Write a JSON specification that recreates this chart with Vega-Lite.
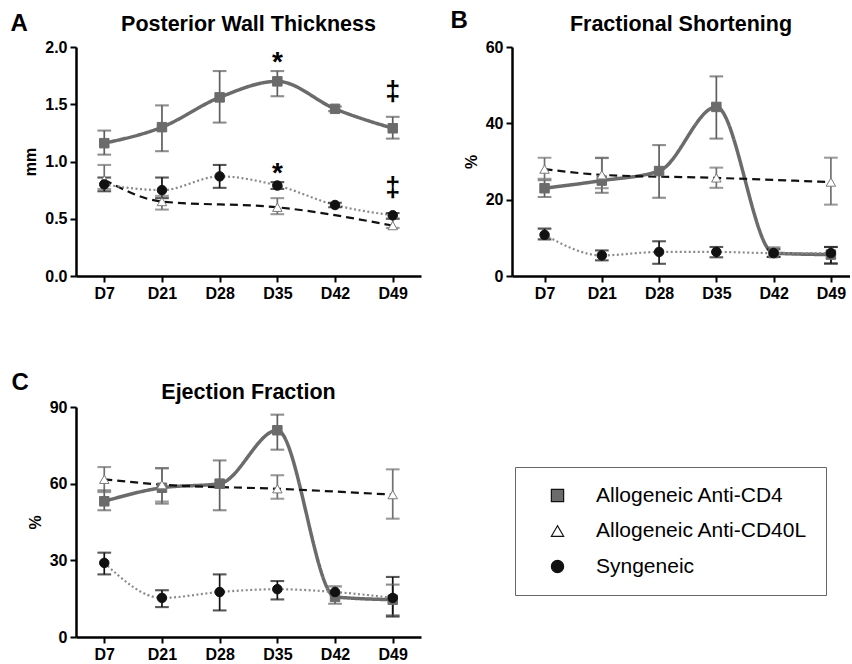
{
  "$schema": "https://vega.github.io/schema/vega-lite/v6.json",
  "padding": {"left": 10, "top": 8, "right": 0, "bottom": 2},
  "background": "white",
  "datasets": {
    "pwt": [
      {"day": "D7", "series": "Allogeneic Anti-CD4", "v": 1.16, "lo": 1.06, "hi": 1.27},
      {"day": "D21", "series": "Allogeneic Anti-CD4", "v": 1.30, "lo": 1.09, "hi": 1.49},
      {"day": "D28", "series": "Allogeneic Anti-CD4", "v": 1.56, "lo": 1.34, "hi": 1.79},
      {"day": "D35", "series": "Allogeneic Anti-CD4", "v": 1.70, "lo": 1.57, "hi": 1.79, "sig": "*"},
      {"day": "D42", "series": "Allogeneic Anti-CD4", "v": 1.46, "lo": 1.44, "hi": 1.48},
      {"day": "D49", "series": "Allogeneic Anti-CD4", "v": 1.29, "lo": 1.20, "hi": 1.39, "sig": "‡"},
      {"day": "D7", "series": "Allogeneic Anti-CD40L", "v": 0.84, "lo": 0.76, "hi": 0.97},
      {"day": "D21", "series": "Allogeneic Anti-CD40L", "v": 0.65, "lo": 0.58, "hi": 0.70},
      {"day": "D35", "series": "Allogeneic Anti-CD40L", "v": 0.60, "lo": 0.54, "hi": 0.68},
      {"day": "D49", "series": "Allogeneic Anti-CD40L", "v": 0.44, "lo": 0.42, "hi": 0.50},
      {"day": "D7", "series": "Syngeneic", "v": 0.80, "lo": 0.74, "hi": 0.86},
      {"day": "D21", "series": "Syngeneic", "v": 0.75, "lo": 0.68, "hi": 0.86},
      {"day": "D28", "series": "Syngeneic", "v": 0.87, "lo": 0.77, "hi": 0.97},
      {"day": "D35", "series": "Syngeneic", "v": 0.79, "lo": 0.76, "hi": 0.82, "sig": "*"},
      {"day": "D42", "series": "Syngeneic", "v": 0.62, "lo": 0.60, "hi": 0.64},
      {"day": "D49", "series": "Syngeneic", "v": 0.53, "lo": 0.50, "hi": 0.55, "sig": "‡"}
    ],
    "fs": [
      {"day": "D7", "series": "Allogeneic Anti-CD4", "v": 23.0, "lo": 20.7, "hi": 25.1},
      {"day": "D21", "series": "Allogeneic Anti-CD4", "v": 25.0, "lo": 21.8, "hi": 30.9},
      {"day": "D28", "series": "Allogeneic Anti-CD4", "v": 27.5, "lo": 20.5, "hi": 34.3},
      {"day": "D35", "series": "Allogeneic Anti-CD4", "v": 44.3, "lo": 36.0, "hi": 52.3},
      {"day": "D42", "series": "Allogeneic Anti-CD4", "v": 6.0, "lo": 5.0, "hi": 7.5},
      {"day": "D49", "series": "Allogeneic Anti-CD4", "v": 5.6, "lo": 3.2, "hi": 7.6},
      {"day": "D7", "series": "Allogeneic Anti-CD40L", "v": 28.0, "lo": 25.5, "hi": 31.0},
      {"day": "D21", "series": "Allogeneic Anti-CD40L", "v": 26.5, "lo": 23.0, "hi": 31.0},
      {"day": "D35", "series": "Allogeneic Anti-CD40L", "v": 25.7, "lo": 23.1, "hi": 28.4},
      {"day": "D49", "series": "Allogeneic Anti-CD40L", "v": 24.6, "lo": 18.7, "hi": 31.0},
      {"day": "D7", "series": "Syngeneic", "v": 10.8, "lo": 9.6, "hi": 12.4},
      {"day": "D21", "series": "Syngeneic", "v": 5.4, "lo": 4.1, "hi": 6.7},
      {"day": "D28", "series": "Syngeneic", "v": 6.3, "lo": 3.2, "hi": 9.1},
      {"day": "D35", "series": "Syngeneic", "v": 6.3, "lo": 4.9, "hi": 7.6},
      {"day": "D42", "series": "Syngeneic", "v": 6.0, "lo": 5.0, "hi": 7.0},
      {"day": "D49", "series": "Syngeneic", "v": 6.0, "lo": 3.3, "hi": 7.6}
    ],
    "ef": [
      {"day": "D7", "series": "Allogeneic Anti-CD4", "v": 53.1, "lo": 49.6, "hi": 57.4},
      {"day": "D21", "series": "Allogeneic Anti-CD4", "v": 58.4, "lo": 52.2, "hi": 66.1},
      {"day": "D28", "series": "Allogeneic Anti-CD4", "v": 60.0, "lo": 49.6, "hi": 69.1},
      {"day": "D35", "series": "Allogeneic Anti-CD4", "v": 80.9, "lo": 73.3, "hi": 87.0},
      {"day": "D42", "series": "Allogeneic Anti-CD4", "v": 15.7, "lo": 13.0, "hi": 19.8},
      {"day": "D49", "series": "Allogeneic Anti-CD4", "v": 14.6, "lo": 8.5, "hi": 20.5},
      {"day": "D7", "series": "Allogeneic Anti-CD40L", "v": 61.7, "lo": 56.7, "hi": 66.5},
      {"day": "D21", "series": "Allogeneic Anti-CD40L", "v": 59.6, "lo": 53.0, "hi": 66.0},
      {"day": "D35", "series": "Allogeneic Anti-CD40L", "v": 58.0, "lo": 54.1, "hi": 63.3},
      {"day": "D49", "series": "Allogeneic Anti-CD40L", "v": 55.7, "lo": 46.3, "hi": 65.6},
      {"day": "D7", "series": "Syngeneic", "v": 29.0, "lo": 24.5, "hi": 33.0},
      {"day": "D21", "series": "Syngeneic", "v": 15.3, "lo": 11.7, "hi": 18.3},
      {"day": "D28", "series": "Syngeneic", "v": 17.6, "lo": 10.4, "hi": 24.5},
      {"day": "D35", "series": "Syngeneic", "v": 18.7, "lo": 14.7, "hi": 21.9},
      {"day": "D42", "series": "Syngeneic", "v": 17.6},
      {"day": "D49", "series": "Syngeneic", "v": 15.3, "lo": 8.0, "hi": 23.5}
    ]
  },
  "concat": [
    {
      "width": 345, "height": 229,
      "title": {"text": "Posterior Wall Thickness", "dy": 28},
      "data": {"name": "pwt"},
      "encoding": {"x": {"field": "day", "type": "ordinal", "scale": {"type": "point", "domain": ["D7","D21","D28","D35","D42","D49"], "padding": 0.49}, "axis": {"title": "A", "titleX": -66, "titleY": -246, "titleAlign": "left", "titleBaseline": "alphabetic", "titleAngle": 0, "titleFontSize": 24, "labelAngle": 0}}},
      "layer": [
        {"mark": {"type": "line", "interpolate": "monotone"},
         "encoding": {
           "y": {"field": "v", "type": "quantitative", "scale": {"domain": [0, 2], "nice": false}, "axis": {"title": "mm", "values": [0, 0.5, 1, 1.5, 2], "format": ".1f", "titlePadding": 6}},
           "detail": {"field": "series", "type": "nominal"},
           "stroke": {"condition": [{"test": "datum.series === 'Allogeneic Anti-CD4'", "value": "#6b6b6b"}, {"test": "datum.series === 'Allogeneic Anti-CD40L'", "value": "#111111"}], "value": "#8a8a8a"},
           "strokeDash": {"condition": [{"test": "datum.series === 'Allogeneic Anti-CD4'", "value": [1, 0]}, {"test": "datum.series === 'Allogeneic Anti-CD40L'", "value": [8, 5]}], "value": [2, 2.5]},
           "strokeWidth": {"condition": {"test": "datum.series === 'Allogeneic Anti-CD4'", "value": 3.5}, "value": 2.2}}},
        {"mark": {"type": "rule", "strokeWidth": 1.7},
         "encoding": {"y": {"field": "lo", "type": "quantitative"}, "y2": {"field": "hi"},
           "stroke": {"condition": [{"test": "datum.series === 'Allogeneic Anti-CD4'", "value": "#5e5e5e"}, {"test": "datum.series === 'Allogeneic Anti-CD40L'", "value": "#707070"}], "value": "#111111"}}},
        {"mark": {"type": "tick", "filled": false, "size": 12, "thickness": 0.4, "strokeWidth": 1.7},
         "encoding": {"y": {"field": "lo", "type": "quantitative"},
           "stroke": {"condition": [{"test": "datum.series === 'Allogeneic Anti-CD4'", "value": "#5e5e5e"}, {"test": "datum.series === 'Allogeneic Anti-CD40L'", "value": "#707070"}], "value": "#111111"}}},
        {"mark": {"type": "tick", "filled": false, "size": 12, "thickness": 0.4, "strokeWidth": 1.7},
         "encoding": {"y": {"field": "hi", "type": "quantitative"},
           "stroke": {"condition": [{"test": "datum.series === 'Allogeneic Anti-CD4'", "value": "#5e5e5e"}, {"test": "datum.series === 'Allogeneic Anti-CD40L'", "value": "#707070"}], "value": "#111111"}}},
        {"mark": {"type": "point", "filled": true, "size": 90, "strokeWidth": 1, "opacity": 1},
         "encoding": {"y": {"field": "v", "type": "quantitative"},
           "shape": {"condition": [{"test": "datum.series === 'Allogeneic Anti-CD4'", "value": "square"}, {"test": "datum.series === 'Allogeneic Anti-CD40L'", "value": "triangle-up"}], "value": "circle"},
           "fill": {"condition": [{"test": "datum.series === 'Allogeneic Anti-CD4'", "value": "#6b6b6b"}, {"test": "datum.series === 'Allogeneic Anti-CD40L'", "value": "#ffffff"}], "value": "#111111"},
           "stroke": {"condition": [{"test": "datum.series === 'Allogeneic Anti-CD4'", "value": "#6b6b6b"}, {"test": "datum.series === 'Allogeneic Anti-CD40L'", "value": "#7a7a7a"}], "value": "#111111"}}},
        {"transform": [{"filter": "datum.sig === '*'"}],
         "mark": {"type": "text", "fontSize": 28, "fontWeight": "bold", "baseline": "bottom", "dy": 6, "color": "black"},
         "encoding": {"y": {"field": "hi", "type": "quantitative"}, "text": {"field": "sig", "type": "nominal"}}},
        {"transform": [{"filter": "datum.sig === '‡'"}],
         "mark": {"type": "text", "fontSize": 27, "fontWeight": "bold", "baseline": "bottom", "dy": -11, "color": "black"},
         "encoding": {"y": {"field": "hi", "type": "quantitative"}, "text": {"field": "sig", "type": "nominal"}}}
      ]
    },
    {
      "width": 338, "height": 229,
      "title": {"text": "Fractional Shortening", "dy": 31},
      "data": {"name": "fs"},
      "encoding": {"x": {"field": "day", "type": "ordinal", "scale": {"type": "point", "domain": ["D7","D21","D28","D35","D42","D49"], "padding": 0.451, "align": 0.63}, "axis": {"title": "B", "titleX": -62, "titleY": -249, "titleAlign": "left", "titleBaseline": "alphabetic", "titleAngle": 0, "titleFontSize": 24, "labelAngle": 0}}},
      "layer": [
        {"mark": {"type": "line", "interpolate": "monotone"},
         "encoding": {
           "y": {"field": "v", "type": "quantitative", "scale": {"domain": [0, 60], "nice": false}, "axis": {"title": "%", "values": [0, 20, 40, 60], "titlePadding": 6}},
           "detail": {"field": "series", "type": "nominal"},
           "stroke": {"condition": [{"test": "datum.series === 'Allogeneic Anti-CD4'", "value": "#6b6b6b"}, {"test": "datum.series === 'Allogeneic Anti-CD40L'", "value": "#111111"}], "value": "#8a8a8a"},
           "strokeDash": {"condition": [{"test": "datum.series === 'Allogeneic Anti-CD4'", "value": [1, 0]}, {"test": "datum.series === 'Allogeneic Anti-CD40L'", "value": [8, 5]}], "value": [2, 2.5]},
           "strokeWidth": {"condition": {"test": "datum.series === 'Allogeneic Anti-CD4'", "value": 3.5}, "value": 2.2}}},
        {"mark": {"type": "rule", "strokeWidth": 1.7},
         "encoding": {"y": {"field": "lo", "type": "quantitative"}, "y2": {"field": "hi"},
           "stroke": {"condition": [{"test": "datum.series === 'Allogeneic Anti-CD4'", "value": "#5e5e5e"}, {"test": "datum.series === 'Allogeneic Anti-CD40L'", "value": "#707070"}], "value": "#111111"}}},
        {"mark": {"type": "tick", "filled": false, "size": 12, "thickness": 0.4, "strokeWidth": 1.7},
         "encoding": {"y": {"field": "lo", "type": "quantitative"},
           "stroke": {"condition": [{"test": "datum.series === 'Allogeneic Anti-CD4'", "value": "#5e5e5e"}, {"test": "datum.series === 'Allogeneic Anti-CD40L'", "value": "#707070"}], "value": "#111111"}}},
        {"mark": {"type": "tick", "filled": false, "size": 12, "thickness": 0.4, "strokeWidth": 1.7},
         "encoding": {"y": {"field": "hi", "type": "quantitative"},
           "stroke": {"condition": [{"test": "datum.series === 'Allogeneic Anti-CD4'", "value": "#5e5e5e"}, {"test": "datum.series === 'Allogeneic Anti-CD40L'", "value": "#707070"}], "value": "#111111"}}},
        {"mark": {"type": "point", "filled": true, "size": 90, "strokeWidth": 1, "opacity": 1},
         "encoding": {"y": {"field": "v", "type": "quantitative"},
           "shape": {"condition": [{"test": "datum.series === 'Allogeneic Anti-CD4'", "value": "square"}, {"test": "datum.series === 'Allogeneic Anti-CD40L'", "value": "triangle-up"}], "value": "circle"},
           "fill": {"condition": [{"test": "datum.series === 'Allogeneic Anti-CD4'", "value": "#6b6b6b"}, {"test": "datum.series === 'Allogeneic Anti-CD40L'", "value": "#ffffff"}], "value": "#111111"},
           "stroke": {"condition": [{"test": "datum.series === 'Allogeneic Anti-CD4'", "value": "#6b6b6b"}, {"test": "datum.series === 'Allogeneic Anti-CD40L'", "value": "#7a7a7a"}], "value": "#111111"}}}
      ]
    },
    {
      "width": 345, "height": 230,
      "title": {"text": "Ejection Fraction", "dy": 37},
      "data": {"name": "ef"},
      "encoding": {"x": {"field": "day", "type": "ordinal", "scale": {"type": "point", "domain": ["D7","D21","D28","D35","D42","D49"], "padding": 0.49}, "axis": {"title": "C", "titleX": -65, "titleY": -248, "titleAlign": "left", "titleBaseline": "alphabetic", "titleAngle": 0, "titleFontSize": 24, "labelAngle": 0}}},
      "layer": [
        {"mark": {"type": "line", "interpolate": "monotone"},
         "encoding": {
           "y": {"field": "v", "type": "quantitative", "scale": {"domain": [0, 90], "nice": false}, "axis": {"title": "%", "values": [0, 30, 60, 90], "titlePadding": 6}},
           "detail": {"field": "series", "type": "nominal"},
           "stroke": {"condition": [{"test": "datum.series === 'Allogeneic Anti-CD4'", "value": "#6b6b6b"}, {"test": "datum.series === 'Allogeneic Anti-CD40L'", "value": "#111111"}], "value": "#8a8a8a"},
           "strokeDash": {"condition": [{"test": "datum.series === 'Allogeneic Anti-CD4'", "value": [1, 0]}, {"test": "datum.series === 'Allogeneic Anti-CD40L'", "value": [8, 5]}], "value": [2, 2.5]},
           "strokeWidth": {"condition": {"test": "datum.series === 'Allogeneic Anti-CD4'", "value": 3.5}, "value": 2.2}}},
        {"mark": {"type": "rule", "strokeWidth": 1.7},
         "encoding": {"y": {"field": "lo", "type": "quantitative"}, "y2": {"field": "hi"},
           "stroke": {"condition": [{"test": "datum.series === 'Allogeneic Anti-CD4'", "value": "#5e5e5e"}, {"test": "datum.series === 'Allogeneic Anti-CD40L'", "value": "#707070"}], "value": "#111111"}}},
        {"mark": {"type": "tick", "filled": false, "size": 12, "thickness": 0.4, "strokeWidth": 1.7},
         "encoding": {"y": {"field": "lo", "type": "quantitative"},
           "stroke": {"condition": [{"test": "datum.series === 'Allogeneic Anti-CD4'", "value": "#5e5e5e"}, {"test": "datum.series === 'Allogeneic Anti-CD40L'", "value": "#707070"}], "value": "#111111"}}},
        {"mark": {"type": "tick", "filled": false, "size": 12, "thickness": 0.4, "strokeWidth": 1.7},
         "encoding": {"y": {"field": "hi", "type": "quantitative"},
           "stroke": {"condition": [{"test": "datum.series === 'Allogeneic Anti-CD4'", "value": "#5e5e5e"}, {"test": "datum.series === 'Allogeneic Anti-CD40L'", "value": "#707070"}], "value": "#111111"}}},
        {"mark": {"type": "point", "filled": true, "size": 90, "strokeWidth": 1, "opacity": 1},
         "encoding": {"y": {"field": "v", "type": "quantitative"},
           "shape": {"field": "series", "type": "nominal", "scale": {"domain": ["Allogeneic Anti-CD4","Allogeneic Anti-CD40L","Syngeneic"], "range": ["square", "triangle-up", "circle"]},
             "legend": {"orient": "none", "legendX": 439, "legendY": 420, "title": null, "labelFontSize": 21, "labelFontWeight": "normal", "labelColor": "black", "labelFont": "Liberation Sans", "labelLimit": 400, "symbolSize": 150, "symbolOffset": 14, "labelOffset": 28, "padding": 18, "rowPadding": 13.5, "strokeColor": "#666666", "symbolStrokeWidth": 1.2}},
           "fill": {"field": "series", "type": "nominal", "scale": {"domain": ["Allogeneic Anti-CD4","Allogeneic Anti-CD40L","Syngeneic"], "range": ["#6b6b6b", "#ffffff", "#111111"]},
             "legend": {"orient": "none", "legendX": 439, "legendY": 420, "title": null, "labelFontSize": 21, "labelFontWeight": "normal", "labelColor": "black", "labelFont": "Liberation Sans", "labelLimit": 400, "symbolSize": 150, "symbolOffset": 14, "labelOffset": 28, "padding": 18, "rowPadding": 13.5, "strokeColor": "#666666", "symbolStrokeWidth": 1.2}},
           "stroke": {"condition": [{"test": "datum.series === 'Allogeneic Anti-CD4'", "value": "#6b6b6b"}, {"test": "datum.series === 'Allogeneic Anti-CD40L'", "value": "#7a7a7a"}], "value": "#111111"}}}
      ]
    }
  ],
  "columns": 2,
  "spacing": {"row": 131, "column": 91},
  "bounds": "flush",
  "config": {
    "font": "Liberation Sans",
    "view": {"stroke": null},
    "axis": {"domainColor": "black", "domainWidth": 2.5, "tickColor": "black", "tickWidth": 2, "tickSize": 6, "labelColor": "black", "labelFontSize": 16, "labelFontWeight": "bold", "labelFont": "Liberation Sans", "titleColor": "black", "titleFont": "Liberation Sans", "titleFontWeight": "bold", "titleFontSize": 16, "grid": false, "labelPadding": 3},
    "title": {"fontSize": 21.5, "fontWeight": "bold", "font": "Liberation Sans", "color": "black", "anchor": "middle", "frame": "group"}
  }
}
